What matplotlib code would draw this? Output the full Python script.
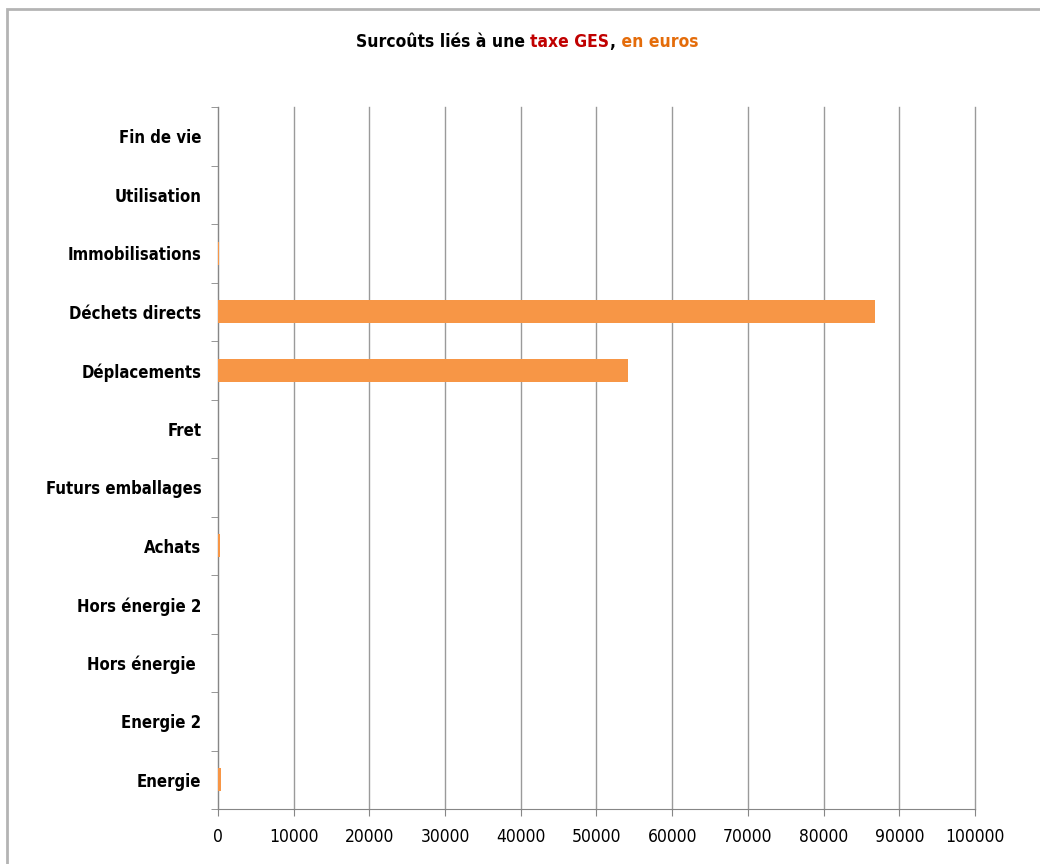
import numpy as np
import matplotlib
matplotlib.use("Agg")
import matplotlib.pyplot as plt
from matplotlib.patches import Rectangle

plt.rcParams['font.family'] = ['DejaVu Sans']
plt.rcParams['font.stretch'] = 'condensed'

# data (bottom to top)
categories = ["Energie", "Energie 2", "Hors énergie ", "Hors énergie 2", "Achats",
              "Futurs emballages", "Fret", "Déplacements", "Déchets directs",
              "Immobilisations", "Utilisation", "Fin de vie"]
values = [350, 0, 0, 0, 300, 0, 0, 54100, 86800, 150, 0, 0]
xticks = np.arange(0, 100001, 10000)

fig = plt.figure(figsize=(10.4, 8.64), dpi=100)
ax = fig.add_axes([0.2096, 1 - 809 / 864, 0.7279, 702 / 864])

# figure border
fig.patches.append(Rectangle((7 / 1040, -0.1), 1.2, 1 - 9 / 864 + 0.1,
                             transform=fig.transFigure, fill=False,
                             edgecolor="#b4b4b4", linewidth=2))

y = np.arange(len(categories))
ax.barh(y, values, height=0.4, color="#f79646", zorder=3)

ax.set_xlim(0, 100000)
ax.set_ylim(-0.5, len(categories) - 0.5)
ax.set_xticks(xticks)
ax.set_xticklabels([str(t) for t in xticks], fontsize=12.5)
ax.grid(axis="x", color="#9a9a9a", linewidth=1, zorder=0, clip_on=False)

# category labels without ticks, ticks at the boundaries
ax.set_yticks(y)
ax.set_yticklabels(categories, fontsize=12, fontweight="bold")
ax.tick_params(axis="y", length=0, pad=12)
ax.set_yticks(np.arange(-0.5, len(categories)), minor=True)
ax.tick_params(axis="y", which="minor", length=5, color="#868686", direction="out")
ax.tick_params(axis="x", length=5, color="#868686", direction="out", pad=9)

for s in ["top", "right"]:
    ax.spines[s].set_visible(False)
ax.spines["left"].set_color("#868686")
ax.spines["bottom"].set_color("#868686")

# title in three colours
parts = [("Surcoûts liés à une ", "black"), ("taxe GES", "#c00000"),
         (",", "black"), (" en euros", "#e46c0a")]
fig.canvas.draw()
r = fig.canvas.get_renderer()
texts = []
for s, c in parts:
    t = fig.text(0, 1 - 42 / 864, s, color=c, fontsize=12.5, fontweight="bold",
                 va="center", ha="left")
    texts.append(t)
widths = [t.get_window_extent(r).width for t in texts]
x0 = 527 - sum(widths) / 2
for t, w in zip(texts, widths):
    t.set_x(x0 / 1040)
    x0 += w

fig.savefig("out.png", dpi=100)
